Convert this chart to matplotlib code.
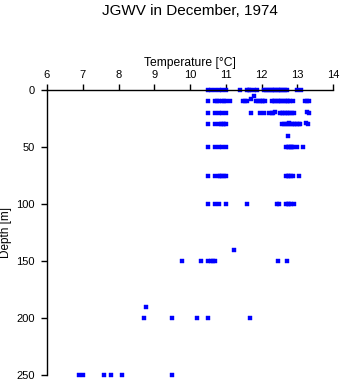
import numpy as np
import matplotlib
matplotlib.use("Agg")
import matplotlib.pyplot as plt

plt.rcParams['font.family'] = ['Liberation Sans', 'DejaVu Sans']

# temperatures [degC] read at each depth [m]
t_0 = [10.49, 10.59, 10.69, 10.80, 10.89, 11.0, 11.40, 11.59, 11.64, 11.69, 11.78, 11.87,
       12.08, 12.13, 12.18, 12.24, 12.29, 12.34, 12.39, 12.45, 12.5, 12.55, 12.6, 12.65, 12.7,
       13.0, 13.1]
t_5 = [11.78]
t_8 = [11.70]
t_10 = [10.49, 10.69, 10.75, 10.8, 10.89, 10.95, 11.0, 11.12, 11.48, 11.54, 11.6,
        11.85, 11.9, 11.95, 12.0, 12.05, 12.11, 12.29, 12.34, 12.39, 12.45, 12.5, 12.55,
        12.6, 12.65, 12.7, 12.75, 12.8, 12.88, 13.22, 13.28, 13.33]
t_19 = [12.37, 13.26]
t_20 = [10.49, 10.69, 10.8, 10.89, 11.0, 11.70, 11.96, 12.07, 12.2, 12.29, 12.33,
        12.51, 12.56, 12.6, 12.65, 12.7, 12.75, 12.8, 12.86, 12.91, 13.32]
t_29 = [12.76, 13.24]
t_30 = [10.49, 10.69, 10.8, 10.86, 10.91, 10.96, 11.02, 12.58, 12.63, 12.68, 12.73,
        12.8, 12.85, 12.9, 12.95, 13.0, 13.05, 13.08, 13.3]
t_40 = [12.75]
t_50 = [10.49, 10.69, 10.8, 10.89, 11.0, 12.69, 12.73, 12.78, 12.82, 12.86, 12.88, 13.0, 13.17]
t_75 = [10.49, 10.69, 10.8, 10.85, 10.89, 10.95, 11.0, 12.69, 12.73, 12.78, 12.82, 12.88, 13.05]
t_100 = [10.49, 10.69, 10.8, 11.0, 11.59, 12.44, 12.48, 12.69, 12.73, 12.78, 12.82, 12.91]
t_140 = [11.22]
t_150 = [9.79, 10.30, 10.49, 10.59, 10.64, 10.69, 12.46, 12.70]
t_190 = [8.78]
t_200 = [8.70, 9.51, 10.20, 10.49, 11.69]
t_250 = [6.90, 7.01, 7.60, 7.80, 8.11, 9.51]

depths = [0, 5, 8, 10, 19, 20, 29, 30, 40, 50, 75, 100, 140, 150, 190, 200, 250]
temps = [t_0, t_5, t_8, t_10, t_19, t_20, t_29, t_30, t_40, t_50, t_75, t_100,
         t_140, t_150, t_190, t_200, t_250]

x = np.concatenate([np.array(t, float) for t in temps])
y = np.concatenate([np.full(len(t), d, float) for d, t in zip(depths, temps)])

W, H = 341, 384
fig = plt.figure(figsize=(W / 100, H / 100), dpi=100)
ax = fig.add_axes([47 / W, 1 - 375 / H, (333 - 47) / W, (375 - 90) / H])

ax.plot(x, y, ls='none', marker='s', ms=2.4, mec='#0000ff', mfc='#0000ff', mew=0.3,
        clip_on=False)

ax.set_xlim(6, 14)
ax.set_ylim(250, 0)
ax.set_xticks(range(6, 15))
ax.set_yticks([0, 50, 100, 150, 200, 250])
ax.xaxis.tick_top()
ax.xaxis.set_label_position('top')
ax.spines['bottom'].set_visible(False)
ax.spines['right'].set_visible(False)
for s in ('top', 'left'):
    ax.spines[s].set_linewidth(1.0)
ax.tick_params(axis='both', length=4.5, width=1.0, labelsize=8)
ax.tick_params(axis='x', pad=2.5)
ax.tick_params(axis='y', pad=4.5)
ax.set_xlabel('Temperature [°C]', fontsize=8.7, labelpad=3)
ax.set_ylabel('Depth [m]', fontsize=8.5)
ax.yaxis.set_label_coords((12 - 47) / 286, 0.5)

fig.text(190 / W, 1 - 11 / H, 'JGWV in December, 1974', ha='center', va='center', fontsize=11)

fig.savefig('out.png', dpi=100)
